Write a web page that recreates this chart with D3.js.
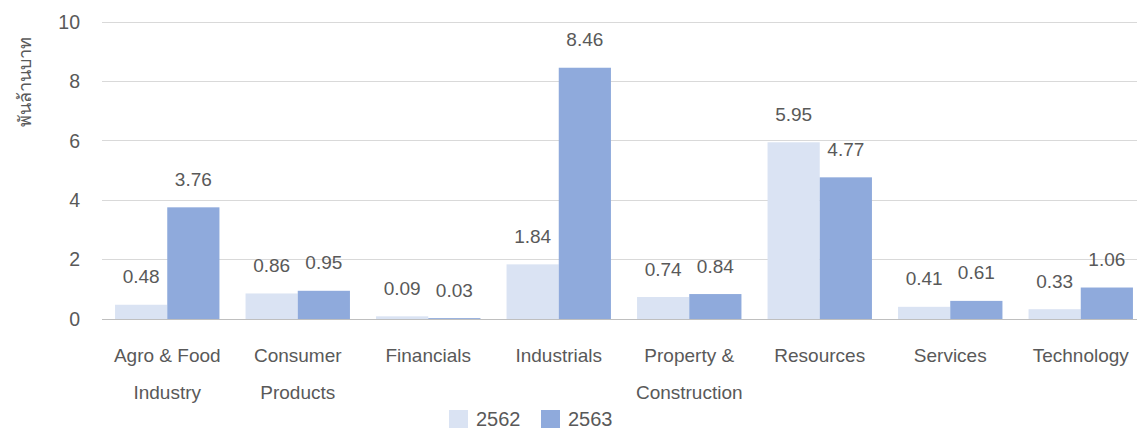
<!DOCTYPE html>
<html><head><meta charset="utf-8">
<script src="https://cdn.jsdelivr.net/npm/d3@7"></script>
<style>body{margin:0;background:#fff}svg{display:block}</style>
</head><body>
<svg id="c" width="1137" height="430"></svg>
<script>
const categories = [["Agro & Food","Industry"],["Consumer","Products"],["Financials"],["Industrials"],["Property &","Construction"],["Resources"],["Services"],["Technology"]];
const seriesNames = ["2562","2563"];
const values2562 = [0.48,0.86,0.09,1.84,0.74,5.95,0.41,0.33];
const values2563 = [3.76,0.95,0.03,8.46,0.84,4.77,0.61,1.06];
const yTicks = [0,2,4,6,8,10];
const colors = ["#dae3f3","#8faadc"];

const svg = d3.select("#c");
const font = "'Liberation Sans', Arial, sans-serif";
const textColor = "#595959";
const x0 = d3.scaleBand().domain(d3.range(categories.length)).range([102,1146]).paddingInner(0.2).paddingOuter(0.1);
const x1 = d3.scaleBand().domain([0,1]).range([0,x0.bandwidth()]);
const y = d3.scaleLinear().domain([0,10]).range([319,22]);

// grid
svg.append("g").selectAll("line").data(yTicks).join("line")
  .attr("x1",102).attr("x2",1137).attr("y1",d=>y(d)).attr("y2",d=>y(d))
  .attr("stroke",d=>d===0?"#bfbfbf":"#d9d9d9").attr("stroke-width",1).attr("shape-rendering","crispEdges");
svg.append("g").selectAll("text").data(yTicks).join("text")
  .attr("x",80).attr("y",d=>y(d)).attr("dy","0.35em").attr("text-anchor","end")
  .attr("font-family",font).attr("font-size",19.5).attr("fill",textColor).text(d=>d);

// y label
svg.append("text").attr("transform","translate(31,82) rotate(-90)").attr("text-anchor","middle")
  .attr("font-family","'Noto Sans', sans-serif").attr("font-size",18).attr("fill",textColor).text("พันล้านบาท");

const series = [values2562, values2563];
series.forEach((vals,si)=>{
  const g = svg.append("g");
  g.selectAll("rect").data(vals).join("rect")
    .attr("x",(d,i)=>x0(i)+x1(si)).attr("width",x1.bandwidth())
    .attr("y",d=>y(d)).attr("height",d=>y(0)-y(d)).attr("fill",colors[si]);
  g.selectAll("text").data(vals).join("text")
    .attr("x",(d,i)=>x0(i)+x1(si)+x1.bandwidth()/2).attr("y",d=>y(d)-21.5)
    .attr("text-anchor","middle").attr("font-family",font).attr("font-size",19).attr("fill",textColor)
    .text(d=>d.toFixed(2));
});

// category labels
const cg = svg.append("g");
categories.forEach((lines,i)=>{
  lines.forEach((l,li)=>{
    cg.append("text").attr("x",x0(i)+x0.bandwidth()/2).attr("y",362+li*37)
      .attr("text-anchor","middle").attr("font-family",font).attr("font-size",19).attr("fill",textColor).text(l);
  });
});

// legend
const leg = svg.append("g");
const legX = [449,541];
seriesNames.forEach((n,i)=>{
  leg.append("rect").attr("x",legX[i]).attr("y",410).attr("width",19).attr("height",18).attr("fill",colors[i]);
  leg.append("text").attr("x",legX[i]+27).attr("y",426).attr("font-family",font).attr("font-size",20).attr("fill",textColor).text(n);
});
</script>
</body></html>
